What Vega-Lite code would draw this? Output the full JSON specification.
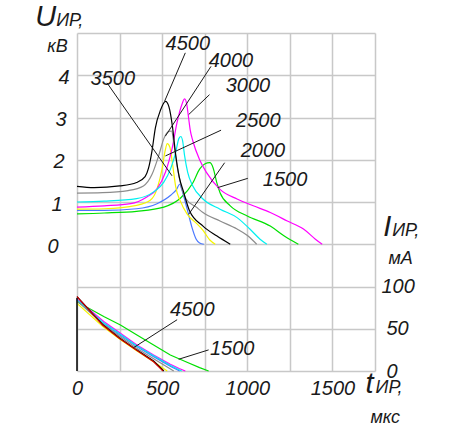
{
  "$schema": "https://vega.github.io/schema/vega-lite/v6.json",
  "width": 298,
  "height": 338,
  "autosize": {"type": "none"},
  "padding": {"left": 77, "top": 33, "right": 80, "bottom": 57},
  "background": "white",
  "config": {"view": {"stroke": null}, "font": "Liberation Sans"},
  "datasets": {
    "upper": [
      {"s":"1500","t":0,"U":0.72},{"s":"1500","t":160,"U":0.74},{"s":"1500","t":350,"U":0.78},{"s":"1500","t":510,"U":0.88},{"s":"1500","t":610,"U":1.1},{"s":"1500","t":680,"U":1.45},{"s":"1500","t":720,"U":1.78},{"s":"1500","t":750,"U":1.9},{"s":"1500","t":780,"U":1.93},{"s":"1500","t":800,"U":1.8},{"s":"1500","t":820,"U":1.47},{"s":"1500","t":840,"U":1.22},{"s":"1500","t":900,"U":0.91},{"s":"1500","t":1000,"U":0.67},{"s":"1500","t":1135,"U":0.43},{"s":"1500","t":1215,"U":0.2},{"s":"1500","t":1300,"U":0},
      {"s":"2000","t":0,"U":0.8},{"s":"2000","t":160,"U":0.8},{"s":"2000","t":350,"U":0.84},{"s":"2000","t":470,"U":0.96},{"s":"2000","t":550,"U":1.16},{"s":"2000","t":585,"U":1.3},{"s":"2000","t":603,"U":1.42},{"s":"2000","t":615,"U":1.3},{"s":"2000","t":636,"U":1.0},{"s":"2000","t":656,"U":0.69},{"s":"2000","t":675,"U":0.4},{"s":"2000","t":700,"U":0.12},{"s":"2000","t":720,"U":0.03},{"s":"2000","t":745,"U":0},
      {"s":"2500","t":0,"U":0.83},{"s":"2500","t":160,"U":0.84},{"s":"2500","t":350,"U":0.92},{"s":"2500","t":430,"U":1.04},{"s":"2500","t":470,"U":1.31},{"s":"2500","t":500,"U":1.79},{"s":"2500","t":518,"U":2.22},{"s":"2500","t":530,"U":2.38},{"s":"2500","t":545,"U":2.3},{"s":"2500","t":562,"U":1.87},{"s":"2500","t":580,"U":1.35},{"s":"2500","t":607,"U":1.02},{"s":"2500","t":646,"U":0.72},{"s":"2500","t":700,"U":0.5},{"s":"2500","t":740,"U":0.33},{"s":"2500","t":780,"U":0.1},{"s":"2500","t":812,"U":0},
      {"s":"3000","t":0,"U":0.88},{"s":"3000","t":160,"U":0.91},{"s":"3000","t":315,"U":0.96},{"s":"3000","t":410,"U":1.12},{"s":"3000","t":470,"U":1.31},{"s":"3000","t":520,"U":1.71},{"s":"3000","t":558,"U":2.26},{"s":"3000","t":588,"U":2.89},{"s":"3000","t":617,"U":3.32},{"s":"3000","t":632,"U":3.44},{"s":"3000","t":645,"U":3.3},{"s":"3000","t":655,"U":3.0},{"s":"3000","t":665,"U":2.7},{"s":"3000","t":680,"U":2.45},{"s":"3000","t":720,"U":2.0},{"s":"3000","t":760,"U":1.7},{"s":"3000","t":840,"U":1.3},{"s":"3000","t":940,"U":1.07},{"s":"3000","t":1035,"U":0.91},{"s":"3000","t":1135,"U":0.75},{"s":"3000","t":1235,"U":0.55},{"s":"3000","t":1330,"U":0.36},{"s":"3000","t":1400,"U":0.12},{"s":"3000","t":1440,"U":0},
      {"s":"3500","t":0,"U":1.0},{"s":"3500","t":160,"U":1.02},{"s":"3500","t":350,"U":1.08},{"s":"3500","t":450,"U":1.24},{"s":"3500","t":510,"U":1.47},{"s":"3500","t":550,"U":1.79},{"s":"3500","t":580,"U":2.18},{"s":"3500","t":598,"U":2.5},{"s":"3500","t":610,"U":2.55},{"s":"3500","t":620,"U":2.45},{"s":"3500","t":632,"U":2.09},{"s":"3500","t":650,"U":1.7},{"s":"3500","t":680,"U":1.38},{"s":"3500","t":740,"U":1.07},{"s":"3500","t":840,"U":0.83},{"s":"3500","t":940,"U":0.63},{"s":"3500","t":1015,"U":0.36},{"s":"3500","t":1075,"U":0.12},{"s":"3500","t":1115,"U":0},
      {"s":"4000","t":0,"U":1.21},{"s":"4000","t":150,"U":1.22},{"s":"4000","t":300,"U":1.27},{"s":"4000","t":390,"U":1.38},{"s":"4000","t":440,"U":1.65},{"s":"4000","t":480,"U":2.1},{"s":"4000","t":510,"U":2.5},{"s":"4000","t":540,"U":2.67},{"s":"4000","t":555,"U":2.68},{"s":"4000","t":570,"U":2.35},{"s":"4000","t":590,"U":1.8},{"s":"4000","t":610,"U":1.4},{"s":"4000","t":640,"U":1.07},{"s":"4000","t":700,"U":0.88},{"s":"4000","t":740,"U":0.75},{"s":"4000","t":840,"U":0.55},{"s":"4000","t":940,"U":0.36},{"s":"4000","t":1015,"U":0.16},{"s":"4000","t":1055,"U":0},
      {"s":"4500","t":0,"U":1.37},{"s":"4500","t":100,"U":1.34},{"s":"4500","t":250,"U":1.38},{"s":"4500","t":350,"U":1.46},{"s":"4500","t":400,"U":1.6},{"s":"4500","t":420,"U":1.8},{"s":"4500","t":440,"U":2.2},{"s":"4500","t":460,"U":2.75},{"s":"4500","t":490,"U":3.17},{"s":"4500","t":520,"U":3.38},{"s":"4500","t":540,"U":3.25},{"s":"4500","t":560,"U":2.8},{"s":"4500","t":580,"U":2.1},{"s":"4500","t":600,"U":1.6},{"s":"4500","t":625,"U":1.25},{"s":"4500","t":660,"U":0.8},{"s":"4500","t":740,"U":0.43},{"s":"4500","t":820,"U":0.2},{"s":"4500","t":900,"U":0}
    ],
    "lower": [
      {"s":"1500","t":0,"I":82},{"s":"1500","t":157,"I":64.4},{"s":"1500","t":255,"I":54.5},{"s":"1500","t":352,"I":42.7},{"s":"1500","t":450,"I":30.8},{"s":"1500","t":548,"I":19},{"s":"1500","t":646,"I":10.3},{"s":"1500","t":720,"I":4},{"s":"1500","t":773,"I":0},
      {"s":"2000","t":0,"I":84},{"s":"2000","t":150,"I":57},{"s":"2000","t":250,"I":43},{"s":"2000","t":350,"I":29},{"s":"2000","t":450,"I":17},{"s":"2000","t":550,"I":5.5},{"s":"2000","t":603,"I":0},
      {"s":"2500","t":0,"I":80},{"s":"2500","t":150,"I":53},{"s":"2500","t":250,"I":38},{"s":"2500","t":350,"I":24},{"s":"2500","t":450,"I":11},{"s":"2500","t":530,"I":0},
      {"s":"3000","t":0,"I":85},{"s":"3000","t":157,"I":58.5},{"s":"3000","t":255,"I":44.6},{"s":"3000","t":352,"I":30.8},{"s":"3000","t":450,"I":19},{"s":"3000","t":548,"I":7.9},{"s":"3000","t":600,"I":3},{"s":"3000","t":636,"I":0},
      {"s":"3500","t":0,"I":84},{"s":"3500","t":150,"I":58},{"s":"3500","t":250,"I":44},{"s":"3500","t":350,"I":30},{"s":"3500","t":450,"I":18},{"s":"3500","t":550,"I":6.5},{"s":"3500","t":615,"I":0},
      {"s":"4000","t":0,"I":83},{"s":"4000","t":150,"I":56},{"s":"4000","t":250,"I":41},{"s":"4000","t":350,"I":27},{"s":"4000","t":450,"I":14.5},{"s":"4000","t":520,"I":6},{"s":"4000","t":568,"I":0},
      {"s":"4500","t":0,"I":88},{"s":"4500","t":150,"I":55},{"s":"4500","t":250,"I":39},{"s":"4500","t":350,"I":25},{"s":"4500","t":450,"I":12},{"s":"4500","t":510,"I":0},
      {"s":"4500*","t":0,"I":88},{"s":"4500*","t":150,"I":54.5},{"s":"4500*","t":250,"I":38.5},{"s":"4500*","t":350,"I":24.5},{"s":"4500*","t":450,"I":11},{"s":"4500*","t":505,"I":0}
    ],
    "upperLeaders": [
      {"t1":636,"v1":4.53,"t2":515,"v2":3.39},
      {"t1":787,"v1":4.21,"t2":519,"v2":2.56},
      {"t1":176,"v1":3.82,"t2":558,"v2":1.62},
      {"t1":778,"v1":3.54,"t2":656,"v2":3.07},
      {"t1":846,"v1":2.7,"t2":519,"v2":2.09},
      {"t1":867,"v1":1.93,"t2":656,"v2":0.71},
      {"t1":1003,"v1":1.56,"t2":826,"v2":1.34}
    ],
    "upperLabels": [
      {"t":651,"v":4.74,"text":"4500"},
      {"t":904,"v":4.33,"text":"4000"},
      {"t":210,"v":3.91,"text":"3500"},
      {"t":1004,"v":3.75,"text":"3000"},
      {"t":1065,"v":2.92,"text":"2500"},
      {"t":1092,"v":2.2,"text":"2000"},
      {"t":1222,"v":1.51,"text":"1500"}
    ],
    "bigTitles": [
      {"t":-245,"v":5.17,"text":"U"},
      {"t":1798,"v":0.2,"text":"I"},
      {"t":1694,"v":-3.53,"text":"t"}
    ],
    "smallTitles": [
      {"t":-122,"v":5.17,"text":"ИР,"},
      {"t":-175,"v":4.54,"text":"кВ"},
      {"t":1851,"v":0.2,"text":"ИР,"},
      {"t":1829,"v":-0.46,"text":"мА"},
      {"t":1753,"v":-3.53,"text":"ИР,"},
      {"t":1723,"v":-4.24,"text":"мкс"}
    ],
    "lowerStart": [{"t":0,"i1":0,"i2":86.5}],
    "lowerLeaders": [
      {"t1":588,"v1":60.7,"t2":333,"v2":27.7},
      {"t1":773,"v1":25,"t2":597,"v2":13.9}
    ],
    "lowerLabels": [
      {"t":677,"v":71.7,"text":"4500"},
      {"t":911,"v":26,"text":"1500"}
    ]
  },
  "layer": [
    {
      "layer": [
        {
          "data": {"name": "upper"},
          "mark": {"type": "line", "interpolate": "monotone", "strokeWidth": 1.2},
          "encoding": {
            "x": {"field": "t", "type": "quantitative", "title": null,
              "scale": {"domain": [0, 1750], "nice": false, "zero": false},
              "axis": {"title": null, "values": [0,250,500,750,1000,1250,1500,1750],
                "labelExpr": "datum.value % 500 == 0 && datum.value <= 1500 ? datum.label : ''",
                "grid": true, "gridColor": "#c8c8c8", "gridWidth": 1.5, "domain": false, "ticks": false,
                "labelFont": "Liberation Sans", "labelFontStyle": "italic", "labelFontSize": 20,
                "labelColor": "#1a1a1a", "labelPadding": 7, "labelFlush": false, "labelOverlap": false, "format": "d"}},
            "y": {"field": "U", "type": "quantitative", "title": null,
              "scale": {"domain": [-3, 5], "nice": false, "zero": false},
              "axis": {"title": null, "values": [-3,-2,-1,0,1,2,3,4,5],
                "labelExpr": "datum.value >= 0 && datum.value <= 4 ? datum.label : ''",
                "grid": true, "gridColor": "#c8c8c8", "gridWidth": 1.5, "domain": false, "ticks": false,
                "labelFont": "Liberation Sans", "labelFontStyle": "italic", "labelFontSize": 20,
                "labelColor": "#1a1a1a", "labelOffset": 2, "labelOverlap": false, "labelFlush": false,
                "labelPadding": {"condition": [{"test": "datum.value == 0", "value": 19}, {"test": "datum.value == 1", "value": 15}, {"test": "datum.value == 2", "value": 13}, {"test": "datum.value == 3", "value": 11}], "value": 8}}},
            "color": {"field": "s", "type": "nominal", "legend": null,
              "scale": {"domain": ["1500","2000","2500","3000","3500","4000","4500","4500*"],
                "range": ["#00e000","#4a78ff","#f5f500","#ff00ff","#00f0f0","#8c8c8c","#000000","#cc0000"]}}
          }
        },
        {
          "data": {"name": "upperLeaders"},
          "mark": {"type": "rule", "color": "#1a1a1a", "strokeWidth": 1},
          "encoding": {
            "x": {"field": "t1", "type": "quantitative", "title": null, "scale": {"domain": [0, 1750], "nice": false, "zero": false}},
            "y": {"field": "v1", "type": "quantitative", "title": null, "scale": {"domain": [-3, 5], "nice": false, "zero": false}},
            "x2": {"field": "t2"},
            "y2": {"field": "v2"}
          }
        },
        {
          "data": {"name": "upperLabels"},
          "mark": {"type": "text", "font": "Liberation Sans", "fontStyle": "italic", "fontSize": 20, "color": "#1a1a1a", "align": "center", "baseline": "middle"},
          "encoding": {
            "x": {"field": "t", "type": "quantitative", "title": null, "scale": {"domain": [0, 1750], "nice": false, "zero": false}},
            "y": {"field": "v", "type": "quantitative", "title": null, "scale": {"domain": [-3, 5], "nice": false, "zero": false}},
            "text": {"field": "text"}
          }
        },
        {
          "data": {"name": "bigTitles"},
          "mark": {"type": "text", "font": "Liberation Sans", "fontStyle": "italic", "fontSize": 29, "color": "#1a1a1a", "align": "left", "baseline": "alphabetic"},
          "encoding": {
            "x": {"field": "t", "type": "quantitative", "title": null, "scale": {"domain": [0, 1750], "nice": false, "zero": false}},
            "y": {"field": "v", "type": "quantitative", "title": null, "scale": {"domain": [-3, 5], "nice": false, "zero": false}},
            "text": {"field": "text"}
          }
        },
        {
          "data": {"name": "smallTitles"},
          "mark": {"type": "text", "font": "Liberation Sans", "fontStyle": "italic", "fontSize": 18, "color": "#1a1a1a", "align": "left", "baseline": "alphabetic"},
          "encoding": {
            "x": {"field": "t", "type": "quantitative", "title": null, "scale": {"domain": [0, 1750], "nice": false, "zero": false}},
            "y": {"field": "v", "type": "quantitative", "title": null, "scale": {"domain": [-3, 5], "nice": false, "zero": false}},
            "text": {"field": "text"}
          }
        }
      ]
    },
    {
      "layer": [
        {
          "data": {"name": "lower"},
          "mark": {"type": "line", "strokeWidth": 1.2},
          "encoding": {
            "x": {"field": "t", "type": "quantitative", "title": null, "scale": {"domain": [0, 1750], "nice": false, "zero": false}},
            "y": {"field": "I", "type": "quantitative", "title": null,
              "scale": {"domain": [0, 400], "nice": false, "zero": false},
              "axis": {"title": null, "orient": "right", "values": [0, 50, 100], "grid": false, "domain": false, "ticks": false,
                "labelFont": "Liberation Sans", "labelFontStyle": "italic", "labelFontSize": 20, "labelColor": "#1a1a1a",
                "labelOverlap": false, "labelFlush": false,
                "labelPadding": {"condition": {"test": "datum.value == 100", "value": 6}, "value": 11}}},
            "color": {"field": "s", "type": "nominal", "legend": null,
              "scale": {"domain": ["1500","2000","2500","3000","3500","4000","4500","4500*"],
                "range": ["#00e000","#4a78ff","#f5f500","#ff00ff","#00f0f0","#8c8c8c","#000000","#cc0000"]}}
          }
        },
        {
          "data": {"name": "lowerStart"},
          "mark": {"type": "rule", "color": "#000000", "strokeWidth": 1.5},
          "encoding": {
            "x": {"field": "t", "type": "quantitative", "title": null, "scale": {"domain": [0, 1750], "nice": false, "zero": false}},
            "y": {"field": "i1", "type": "quantitative", "title": null, "scale": {"domain": [0, 400], "nice": false, "zero": false}},
            "y2": {"field": "i2"}
          }
        },
        {
          "data": {"name": "lowerLeaders"},
          "mark": {"type": "rule", "color": "#1a1a1a", "strokeWidth": 1},
          "encoding": {
            "x": {"field": "t1", "type": "quantitative", "title": null, "scale": {"domain": [0, 1750], "nice": false, "zero": false}},
            "y": {"field": "v1", "type": "quantitative", "title": null, "scale": {"domain": [0, 400], "nice": false, "zero": false}},
            "x2": {"field": "t2"},
            "y2": {"field": "v2"}
          }
        },
        {
          "data": {"name": "lowerLabels"},
          "mark": {"type": "text", "font": "Liberation Sans", "fontStyle": "italic", "fontSize": 20, "color": "#1a1a1a", "align": "center", "baseline": "middle"},
          "encoding": {
            "x": {"field": "t", "type": "quantitative", "title": null, "scale": {"domain": [0, 1750], "nice": false, "zero": false}},
            "y": {"field": "v", "type": "quantitative", "title": null, "scale": {"domain": [0, 400], "nice": false, "zero": false}},
            "text": {"field": "text"}
          }
        }
      ]
    }
  ],
  "resolve": {"scale": {"y": "independent"}}
}
